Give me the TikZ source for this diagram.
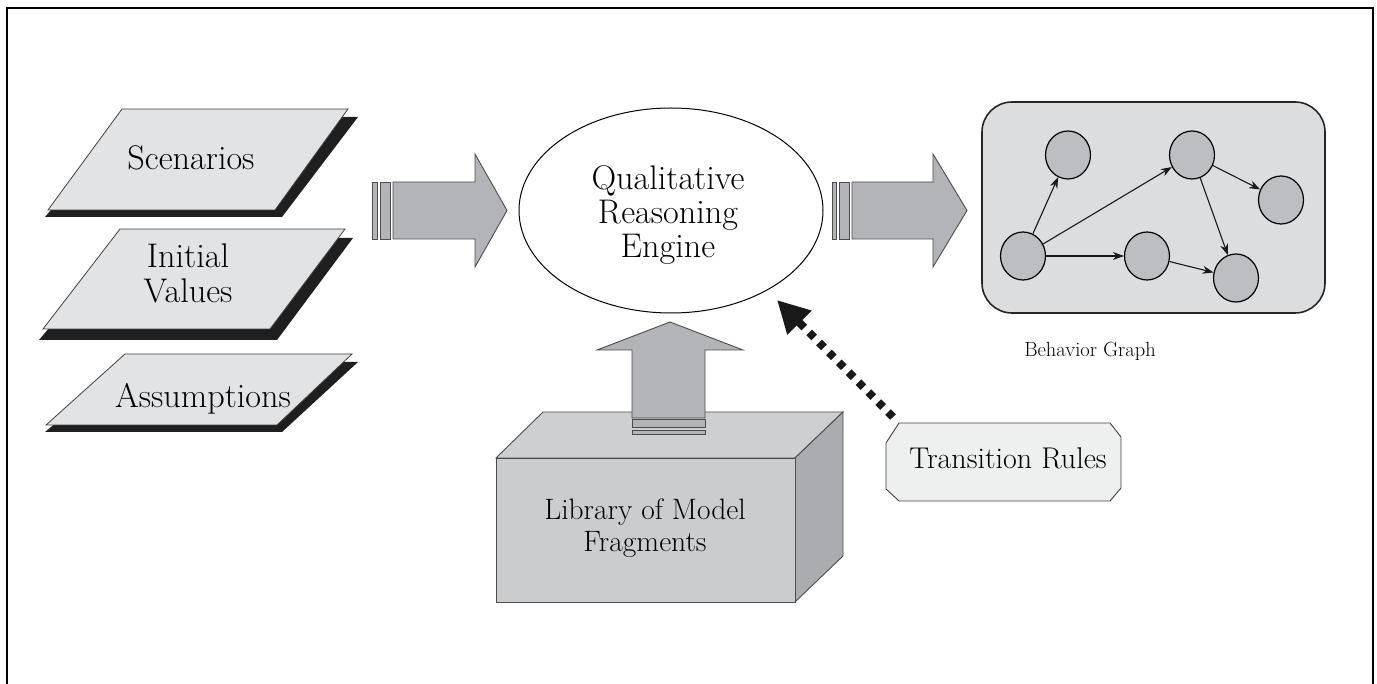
\documentclass[tikz,border=0pt]{standalone}
\usetikzlibrary{arrows.meta,shapes.geometric}

\definecolor{sheetgray}{HTML}{E2E3E5}
\definecolor{arrowgray}{HTML}{B3B4B7}
\definecolor{boxfront}{HTML}{CBCCCE}
\definecolor{boxside}{HTML}{ABACAF}
\definecolor{boxtop}{HTML}{CECFD1}
\definecolor{graphbg}{HTML}{DCDDDF}
\definecolor{statefill}{HTML}{BDBEC1}
\definecolor{rulefill}{HTML}{EEEFEF}

\tikzset{
  sheet/.style={fill=sheetgray, draw=black!75, line width=0.8pt, line join=miter},
  sheetshadow/.style={fill=black!88},
  blockarrow/.style={fill=arrowgray, draw=black!70, line width=0.9pt},
  bigtext/.style={font=\fontsize{34.2}{35}\selectfont, align=center, inner sep=0pt},
  libtext/.style={font=\fontsize{29.5}{32}\selectfont, align=center, inner sep=0pt},
  ruletext/.style={font=\fontsize{30}{32}\selectfont, inner sep=0pt},
  smalltext/.style={font=\fontsize{20.5}{24}\selectfont, inner sep=0pt},
  state/.style={ellipse, minimum width=45pt, minimum height=48pt, inner sep=0pt,
                fill=statefill, draw=black, line width=1.2pt},
  trans/.style={-{Stealth[length=11pt,width=8pt]}, line width=1.1pt, black!90},
}

\begin{document}
\begin{tikzpicture}[x=1pt,y=-1pt]
\useasboundingbox (0,0) rectangle (1377,684);

% outer frame (open at the bottom)
\draw[line width=2pt] (7,684) -- (7,8) -- (1373,8) -- (1373,684);

% ---- input sheets ----
\fill[sheetshadow] (45,217) -- (282,217) -- (358,117) -- (130,117) -- cycle;
\draw[sheet] (48,210) -- (275,210) -- (348,109) -- (122,109) -- cycle;
\node[bigtext, anchor=base] (scen) at (191,170) {Scenarios};

\fill[sheetshadow] (39,340) -- (277,340) -- (353,238) -- (125,238) -- cycle;
\draw[sheet] (43,329) -- (270,329) -- (345,229) -- (120,229) -- cycle;
\node[bigtext] (init) at (188,273) {Initial\\Values};

\fill[sheetshadow] (45,432) -- (282,432) -- (358,362) -- (130,362) -- cycle;
\draw[sheet] (46,425) -- (277,425) -- (352,354) -- (125,354) -- cycle;
\node[bigtext, anchor=base] (assum) at (203,408) {Assumptions};

% ---- engine ----
\node[ellipse, draw=black, line width=1pt, fill=white,
      minimum width=304pt, minimum height=205pt, inner sep=0pt] (engine) at (671,210.5) {};
\node[bigtext, font=\fontsize{34.2}{34}\selectfont] (enginetext) at (668,215.5)
  {Qualitative\\Reasoning\\Engine};

% ---- block arrow into the engine ----
\draw[blockarrow] (372,182) rectangle (377,239);
\draw[blockarrow] (380,182) rectangle (390,239);
\draw[blockarrow] (393,182) -- (475,182) -- (475,154) -- (507,210.5)
                  -- (475,267) -- (475,239) -- (393,239) -- cycle;

% ---- block arrow out of the engine ----
\draw[blockarrow] (832,182) rectangle (836,239);
\draw[blockarrow] (839,182) rectangle (849,239);
\draw[blockarrow] (852,182) -- (933,182) -- (933,154) -- (967,210.5)
                  -- (933,267) -- (933,239) -- (852,239) -- cycle;

% ---- library box ----
\draw[fill=boxtop, draw=black!70, line width=0.9pt]
  (496,458) -- (543,412) -- (843,412) -- (795,458) -- cycle;
\draw[fill=boxside, draw=black!70, line width=0.9pt]
  (795,458) -- (843,412) -- (843,556) -- (795,602) -- cycle;
\draw[fill=boxfront, draw=black!70, line width=0.9pt] (496,458) rectangle (795,602);
\node[libtext] (lib) at (645,528.5) {Library of Model\\Fragments};

% ---- block arrow from the library up to the engine ----
\draw[blockarrow] (632,418) -- (632,350) -- (597,350) -- (670,322)
                  -- (743,350) -- (705,350) -- (705,418) -- cycle;
\draw[blockarrow] (632,419.5) rectangle (705,427);
\draw[blockarrow] (632,430) rectangle (705,434);

% ---- transition rules (octagonal card) ----
\draw[fill=rulefill, draw=black!75, line width=0.9pt]
  (899,423) -- (1110,423) -- (1121,437) -- (1121,488) -- (1110,501)
  -- (899,501) -- (886,489) -- (886,443) -- cycle;
\node[ruletext, anchor=base] (rules) at (1008,469) {Transition Rules};
\coordinate (rulesout) at (893,417);
\coordinate (enginein) at (777,300);
\draw[line width=8pt, dash pattern=on 7pt off 7pt, black!90,
      -{Triangle[length=32pt,width=32pt]}] (rulesout) -- (enginein);

% ---- behavior graph ----
\draw[fill=graphbg, draw=black!85, line width=1.6pt, rounded corners=30pt]
  (982,102) rectangle (1325,313);
\node[state] (g1) at (1023,256) {};
\node[state] (g2) at (1068,155) {};
\node[state] (g3) at (1192,155) {};
\node[state] (g4) at (1281,200) {};
\node[state] (g5) at (1147,256) {};
\node[state] (g6) at (1236,278) {};
\draw[trans] (g1) -- (g2);
\draw[trans] (g1) -- (g3);
\draw[trans] (g1) -- (g5);
\draw[trans] (g3) -- (g4);
\draw[trans] (g3) -- (g6);
\draw[trans] (g5) -- (g6);
\node[smalltext, anchor=base] (bg) at (1090,357) {Behavior Graph};

\end{tikzpicture}
\end{document}
